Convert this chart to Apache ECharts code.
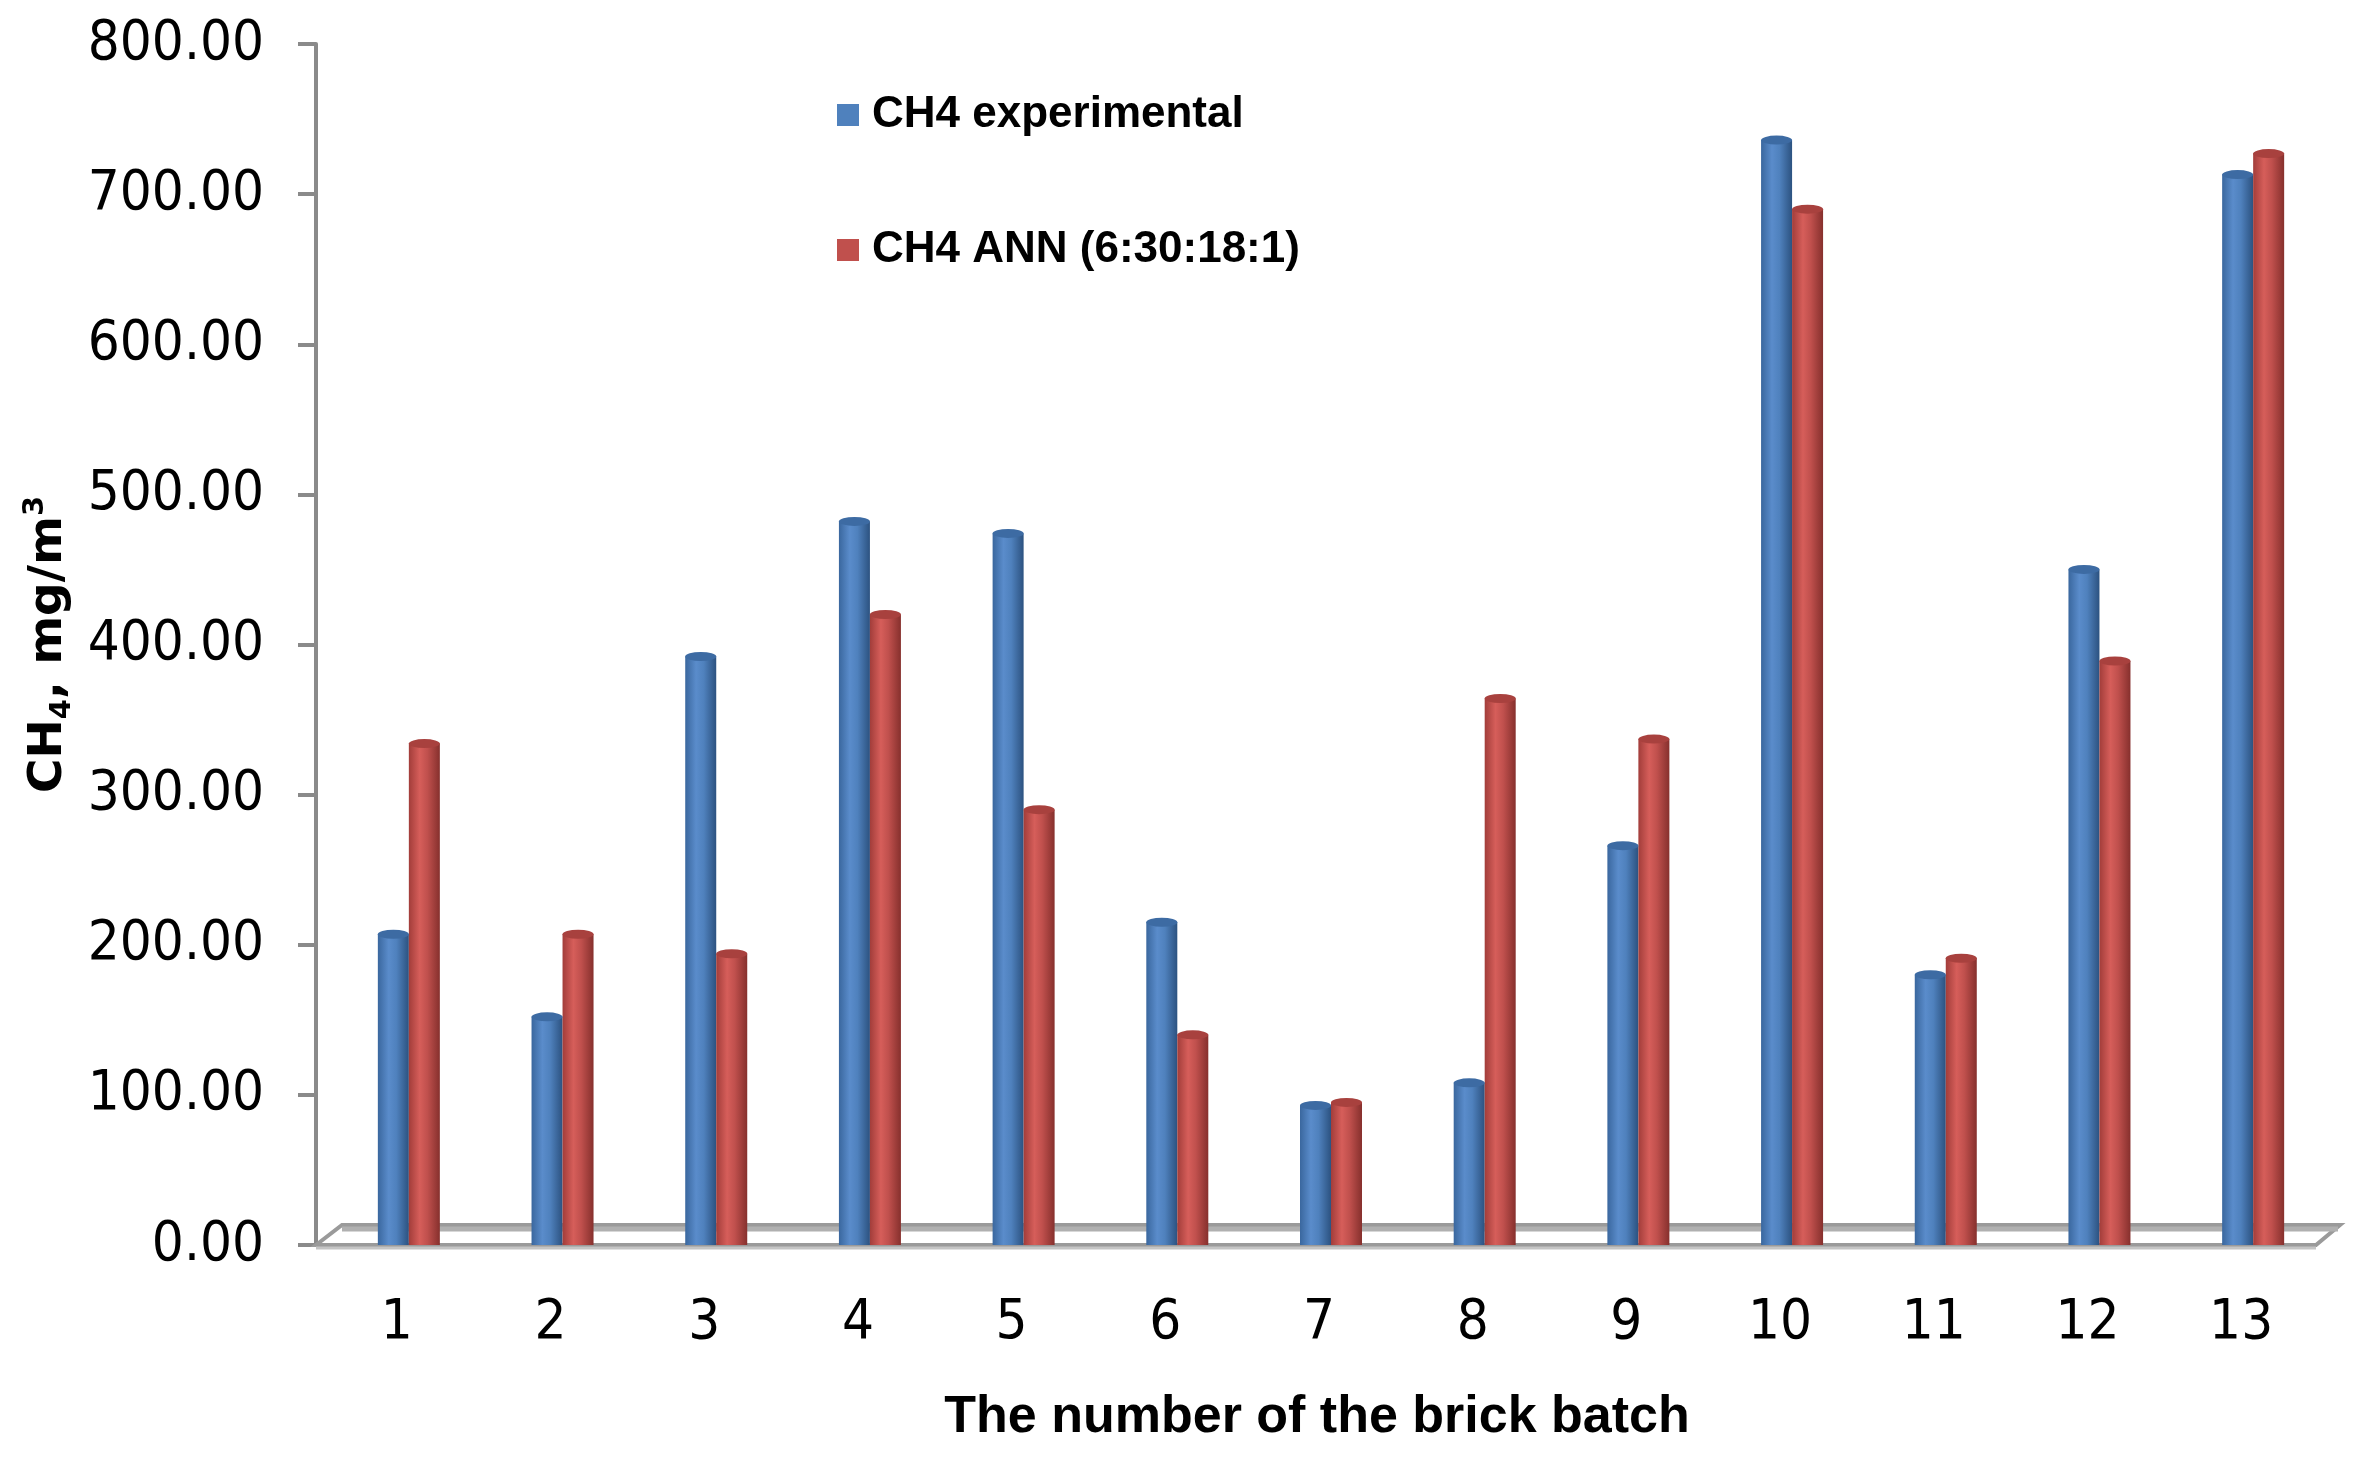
<!DOCTYPE html>
<html>
<head>
<meta charset="utf-8">
<script src="https://cdn.jsdelivr.net/npm/echarts@6/dist/echarts.min.js"></script>
<style>
html,body{margin:0;padding:0;background:#fff;}
#chart{width:2360px;height:1457px;}
</style>
</head>
<body>
<div id="chart"></div>
<script>
// ---- data ----
const categories = ['1','2','3','4','5','6','7','8','9','10','11','12','13'];
const expValues = [207, 152, 392, 482, 474, 215, 93, 108, 266, 736, 180, 450, 713];
const annValues = [334, 207, 194, 420, 290, 140, 95, 364, 337, 690, 191, 389, 727];
const seriesNames = ['CH4 experimental', 'CH4 ANN (6:30:18:1)'];
const yMin = 0, yMax = 800, yStep = 100;
const xTitle = 'The number of the brick batch';

// ---- layout/styles ----
const G = {left: 332, right: 30, top: 44, bottom: 212};
const BW = 31;
const labelFont = '"DejaVu Sans Condensed", "DejaVu Sans", sans-serif';
const boldFont = '"Liberation Sans", Arial, sans-serif';

function cyl(c0, c1, c2, c3) {
  return new echarts.graphic.LinearGradient(0, 0, 1, 0, [
    {offset: 0, color: c0}, {offset: 0.35, color: c1},
    {offset: 0.6, color: c2}, {offset: 1, color: c3}
  ]);
}
const blueFill = cyl('#3A679E', '#5A8CCB', '#4F81BD', '#2C5280');
const redFill = cyl('#A23D3A', '#D65E5A', '#C0504D', '#86302D');

const chart = echarts.init(document.getElementById('chart'), null, {renderer: 'canvas'});

const option = {
  backgroundColor: '#ffffff',
  animation: false,
  grid: {left: G.left, right: G.right, top: G.top, bottom: G.bottom, containLabel: false, outerBoundsMode: 'none'},
  legend: {
    orient: 'vertical',
    left: 832, top: 80,
    itemWidth: 22, itemHeight: 22, itemGap: 75,
    icon: 'rect',
    data: [
      {name: seriesNames[0], itemStyle: {color: '#4F81BD'}},
      {name: seriesNames[1], itemStyle: {color: '#C0504D'}}
    ],
    textStyle: {fontFamily: boldFont, fontWeight: 'bold', fontSize: 44, color: '#000', lineHeight: 60, padding: [0,0,0,8]}
  },
  xAxis: {
    type: 'category',
    data: categories,
    axisLine: {show: false},
    axisTick: {show: false},
    axisLabel: {fontFamily: labelFont, fontSize: 56, color: '#000', margin: 50, padding: [0, 24, 0, 0], lineHeight: 56},
    name: xTitle,
    nameLocation: 'middle',
    nameGap: 147,
    nameTextStyle: {fontFamily: boldFont, fontWeight: 'bold', fontSize: 52, color: '#000', padding: [0, 28, 0, 0]}
  },
  yAxis: {
    type: 'value',
    min: yMin, max: yMax, interval: yStep,
    offset: 16,
    splitLine: {show: false},
    axisLine: {show: true, lineStyle: {color: '#8a8a8a', width: 4}},
    axisTick: {show: true, length: 18, lineStyle: {color: '#8a8a8a', width: 4}},
    axisLabel: {fontFamily: labelFont, fontSize: 56, color: '#000', margin: 52,
      formatter: v => v.toFixed(2)},
    name: '{b|CH}{s|4}{b|, mg/m}{p|3}',
    nameLocation: 'middle',
    nameRotate: 90,
    nameGap: 234,
    nameTextStyle: {
      rich: {
        b: {fontFamily: '"DejaVu Sans", sans-serif', fontWeight: 'bold', fontSize: 47, color: '#000', lineHeight: 56, verticalAlign: 'middle'},
        s: {fontFamily: '"DejaVu Sans", sans-serif', fontWeight: 'bold', fontSize: 29, color: '#000', lineHeight: 34, verticalAlign: 'bottom'},
        p: {fontFamily: '"DejaVu Sans", sans-serif', fontWeight: 'bold', fontSize: 29, color: '#000', lineHeight: 34, verticalAlign: 'top'}
      }
    }
  },
  series: [
    {name: seriesNames[0], type: 'bar', data: expValues, barWidth: BW, barGap: '0%', itemStyle: {color: blueFill}, z: 3},
    {name: seriesNames[1], type: 'bar', data: annValues, barWidth: BW, barGap: '0%', itemStyle: {color: redFill}, z: 3},
    {name: seriesNames[0] + ' cap', type: 'pictorialBar', data: expValues, symbol: 'circle', symbolSize: [BW, 9],
      symbolPosition: 'end', symbolOffset: [0, '-50%'], barGap: '0%', barWidth: BW,
      itemStyle: {color: '#3D6BA3'}, z: 4, legendHoverLink: false, silent: true},
    {name: seriesNames[1] + ' cap', type: 'pictorialBar', data: annValues, symbol: 'circle', symbolSize: [BW, 9],
      symbolPosition: 'end', symbolOffset: [0, '-50%'], barGap: '0%', barWidth: BW,
      itemStyle: {color: '#A8413E'}, z: 4, legendHoverLink: false, silent: true}
  ]
};
chart.setOption(option);

// 3D-looking floor under the bars (decoration)
const y0 = chart.convertToPixel({yAxisIndex: 0}, 0);
const axisX = G.left - 16;
const rightX = 2360 - G.right;
const depth = 20, slant = 26;
chart.setOption({
  graphic: [
    {type: 'polygon', z: 1, shape: {points: [[axisX, y0], [axisX + slant, y0 - depth], [rightX + 10, y0 - depth], [rightX - 14, y0]]},
      style: {fill: '#ffffff', stroke: '#9a9a9a', lineWidth: 4}},
    {type: 'line', z: 1, shape: {x1: axisX + slant, y1: y0 - depth + 4, x2: rightX + 8, y2: y0 - depth + 4}, style: {stroke: '#b0b0b0', lineWidth: 5}},
    {type: 'line', z: 1, shape: {x1: axisX, y1: y0 + 3, x2: rightX - 14, y2: y0 + 3}, style: {stroke: '#c4c4c4', lineWidth: 3}}
  ]
});
</script>
</body>
</html>
